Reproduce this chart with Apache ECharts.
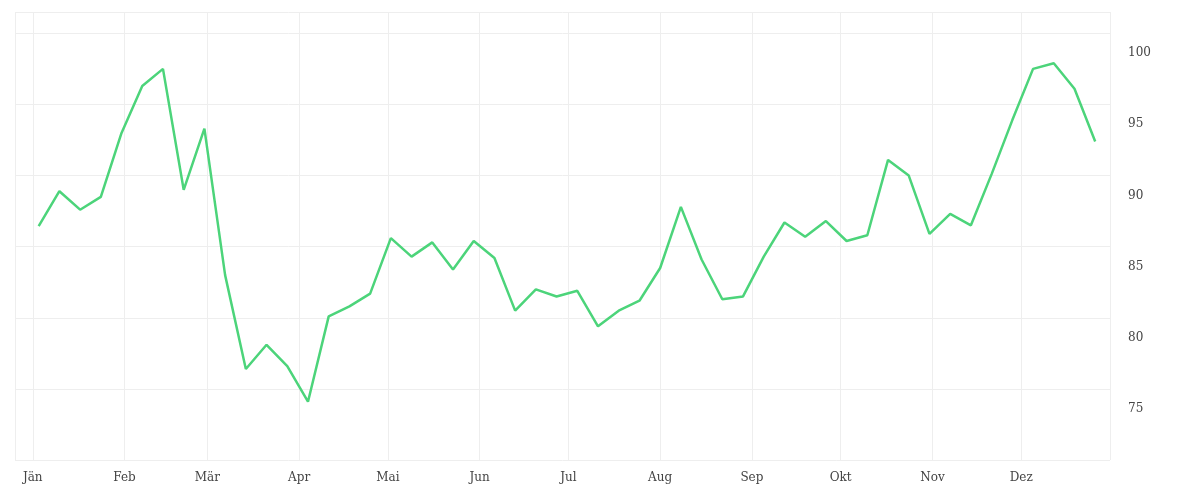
<!DOCTYPE html><html><head><meta charset="utf-8"><script src="https://cdn.jsdelivr.net/npm/echarts@6/dist/echarts.min.js"></script></head><body style="margin:0"><div id="c" style="width:1200px;height:500px"></div><script>
const startDate = '2021-01-03';
const values = [87.85,90.3,89.0,89.9,94.4,97.7,98.9,90.4,94.7,84.4,77.8,79.5,78.0,75.5,81.5,82.2,83.1,87.0,85.7,86.7,84.8,86.8,85.6,81.9,83.4,82.9,83.3,80.8,81.9,82.6,84.9,89.2,85.5,82.7,82.9,85.7,88.1,87.1,88.2,86.8,87.2,92.5,91.4,87.3,88.7,87.9,91.5,95.3,98.9,99.3,97.5,93.8];
const monthLabels = ['Jän','Feb','Mär','Apr','Mai','Jun','Jul','Aug','Sep','Okt','Nov','Dez'];
const yTicks = [75,80,85,90,95,100];
const t0 = Date.UTC(2021,0,3);
const data = values.map((v,i)=>[t0+i*7*864e5, v]);
const chart = echarts.init(document.getElementById('c'));
chart.setOption({
  animation:false,
  grid:{left:15,right:90,top:12,bottom:40},
  xAxis:{type:'time',min:Date.UTC(2020,11,26),max:Date.UTC(2021,11,31),
    splitNumber:12, minInterval:28*864e5,
    axisLine:{show:false},axisTick:{show:false},
    splitLine:{show:true,lineStyle:{color:'#eee'}},
    axisLabel:{color:'#444',fontFamily:'DejaVu Serif',fontSize:12,margin:12,
      formatter:v=>monthLabels[new Date(v).getUTCMonth()]}},
  yAxis:{type:'value',position:'right',min:71.4,max:102.9,interval:5,
    axisLine:{show:false},axisTick:{show:false},
    splitLine:{show:true,lineStyle:{color:'#eee'}},
    axisLabel:{color:'#444',fontFamily:'DejaVu Serif',fontSize:12,margin:18,
      customValues:yTicks},
    splitLine:{show:true,lineStyle:{color:'#eee'},customValues:yTicks}},
  series:[{type:'line',data,symbol:'none',lineStyle:{color:'#4cd47a',width:2.5}}]
});
</script></body></html>
